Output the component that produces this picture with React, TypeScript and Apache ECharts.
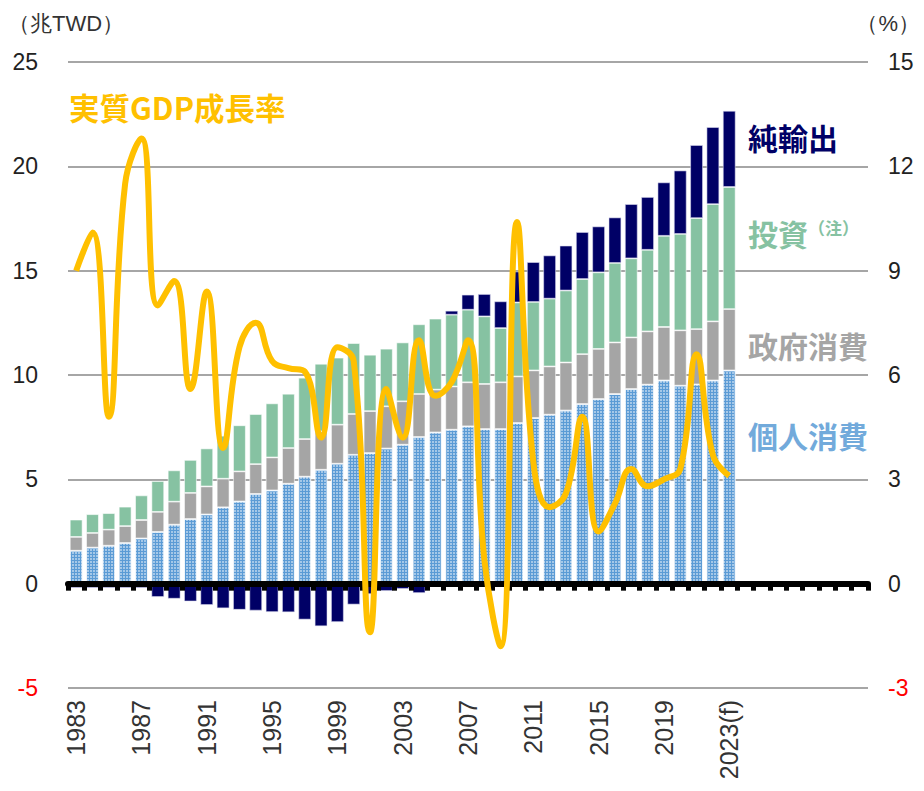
import React, { useEffect, useRef } from "react";
import * as echarts from "echarts";

const years = [
  "1983", "1984", "1985", "1986", "1987", "1988", "1989", "1990", "1991", "1992",
  "1993", "1994", "1995", "1996", "1997", "1998", "1999", "2000", "2001", "2002",
  "2003", "2004", "2005", "2006", "2007", "2008", "2009", "2010", "2011", "2012",
  "2013", "2014", "2015", "2016", "2017", "2018", "2019", "2020", "2021", "2022",
  "2023(f)",
];
const padCount = 8;

// 兆TWD
const personalConsumption = [
  1.58, 1.73, 1.82, 1.95, 2.17, 2.48, 2.83, 3.10, 3.32, 3.66,
  3.94, 4.30, 4.47, 4.79, 5.13, 5.46, 5.75, 6.18, 6.26, 6.48,
  6.66, 7.03, 7.25, 7.38, 7.54, 7.41, 7.41, 7.70, 7.94, 8.10,
  8.30, 8.61, 8.85, 9.09, 9.33, 9.54, 9.74, 9.49, 9.55, 9.74,
  10.22,
];
const governmentConsumption = [
  0.66, 0.70, 0.77, 0.81, 0.88, 0.96, 1.10, 1.25, 1.34, 1.37,
  1.44, 1.43, 1.58, 1.71, 1.80, 1.84, 1.87, 1.95, 2.01, 2.02,
  2.08, 2.06, 2.05, 2.07, 2.11, 2.16, 2.24, 2.23, 2.28, 2.31,
  2.30, 2.39, 2.40, 2.47, 2.47, 2.55, 2.56, 2.65, 2.65, 2.83,
  2.94,
];
const investment = [
  0.83, 0.90, 0.79, 0.93, 1.18, 1.48, 1.50, 1.58, 1.82, 2.06,
  2.21, 2.40, 2.59, 2.60, 2.94, 3.24, 3.21, 3.40, 2.70, 2.76,
  2.82, 3.34, 3.40, 3.44, 3.48, 3.24, 2.60, 3.55, 3.28, 3.25,
  3.45, 3.60, 3.67, 3.81, 3.79, 3.91, 4.37, 4.62, 5.32, 5.62,
  5.85,
];
const netExports = [
  -0.2, -0.2, -0.2, -0.2, -0.2, -0.64, -0.72, -0.85, -1.02, -1.18,
  -1.25, -1.29, -1.36, -1.37, -1.72, -2.04, -1.84, -1.0, -0.5, -0.35,
  -0.25, -0.45, -0.05, 0.19, 0.72, 1.07, 1.28, 1.48, 1.91, 2.07,
  2.15, 2.25, 2.20, 2.18, 2.60, 2.53, 2.56, 3.04, 3.50, 3.69,
  3.65,
];
// %
const realGdpGrowth = [
  9.0, 10.1, 4.8, 11.5, 12.8, 8.0, 8.7, 5.6, 8.4, 3.9,
  6.8, 7.5, 6.4, 6.2, 6.1, 4.2, 6.8, 6.4, -1.4, 5.6,
  4.2, 7.0, 5.4, 5.8, 7.0, 0.7, -1.8, 10.4, 3.5, 2.2,
  2.6, 4.8, 1.5, 2.3, 3.3, 2.8, 3.0, 3.3, 6.6, 3.7,
  3.1,
];

const leftTicks = { min: -5, max: 25, interval: 5 };
const rightTicks = { min: -3, max: 15, interval: 3 };

const NUM_FONT = "'Liberation Sans Narrow', 'Liberation Sans', Arial, sans-serif";
const CJK_FONT = "'Noto Sans CJK JP', 'Noto Sans', sans-serif";

export default function App() {
  const ref = useRef<HTMLDivElement>(null);

  useEffect(() => {
    if (!ref.current) return;
    const chart = echarts.init(ref.current, undefined, { renderer: "svg" });
    const categories = [
      ...years,
      ...Array.from({ length: padCount }, (_, i) => " ".repeat(i + 1)),
    ];
    const barBase = {
      type: "bar",
      stack: "gdp",
      xAxisIndex: 0,
      yAxisIndex: 0,
      barCategoryGap: "22%",
    };
    const numLabel = (v: number) => (v < 0 ? `{r|${v}}` : `${v}`);
    const labelStyle = {
      fontFamily: NUM_FONT,
      fontSize: 23,
      color: "#222",
      rich: { r: { color: "#ff0000", fontFamily: NUM_FONT, fontSize: 23 } },
    };

    chart.setOption({
      animation: false,
      backgroundColor: "#fff",
      grid: { left: 68, right: 56, top: 62, bottom: 103 },
      xAxis: [
        {
          type: "category",
          data: categories,
          axisLine: { onZero: true, lineStyle: { color: "#000", width: 6 } },
          axisTick: { show: true, interval: 0, length: 7, lineStyle: { color: "#000", width: 5 } },
          axisLabel: { show: false },
          z: 5,
        },
        {
          type: "category",
          data: categories,
          position: "bottom",
          axisLine: { show: false },
          axisTick: { show: false },
          axisLabel: {
            interval: 3,
            rotate: 90,
            margin: 12,
            fontFamily: NUM_FONT,
            fontSize: 25,
            color: "#333",
          },
        },
      ],
      yAxis: [
        {
          type: "value",
          ...leftTicks,
          axisLine: { show: false },
          axisTick: { show: false },
          splitLine: { show: true, lineStyle: { color: "#a6a6a6", width: 2 } },
          axisLabel: { ...labelStyle, margin: 30, formatter: numLabel },
        },
        {
          type: "value",
          ...rightTicks,
          position: "right",
          axisLine: { show: false },
          axisTick: { show: false },
          splitLine: { show: false },
          axisLabel: { ...labelStyle, margin: 20, formatter: numLabel },
        },
      ],
      series: [
        {
          ...barBase,
          name: "個人消費",
          data: personalConsumption,
          itemStyle: {
            color: "#5b9bd5",
            borderColor: "rgba(255,255,255,0.7)",
            borderWidth: 0.8,
            decal: {
              symbol: "rect",
              symbolSize: 1,
              color: "rgba(255,255,255,0.45)",
              dashArrayX: [2, 1],
              dashArrayY: [2, 1],
              rotation: 0,
            },
          },
        },
        {
          ...barBase,
          name: "政府消費",
          data: governmentConsumption,
          itemStyle: { color: "#a5a5a5", borderColor: "rgba(255,255,255,0.7)", borderWidth: 0.8 },
        },
        {
          ...barBase,
          name: "投資",
          data: investment,
          itemStyle: { color: "#86c2a2", borderColor: "rgba(255,255,255,0.7)", borderWidth: 0.8 },
        },
        {
          ...barBase,
          name: "純輸出",
          data: netExports,
          itemStyle: { color: "#000066", borderColor: "rgba(220,220,240,0.7)", borderWidth: 0.8 },
        },
        {
          type: "line",
          name: "実質GDP成長率",
          xAxisIndex: 0,
          yAxisIndex: 1,
          data: realGdpGrowth,
          smooth: 0.45,
          symbol: "none",
          lineStyle: { color: "#ffc000", width: 6 },
          z: 10,
        },
      ],
      graphic: [
        {
          type: "text",
          left: 8,
          top: 12,
          style: { text: "（兆TWD）", fontFamily: NUM_FONT, fontSize: 22, fill: "#333" },
        },
        {
          type: "text",
          right: 4,
          top: 12,
          style: { text: "（%）", fontFamily: NUM_FONT, fontSize: 22, fill: "#333" },
        },
        {
          type: "text",
          left: 69,
          top: 92,
          z: 20,
          style: { text: "実質GDP成長率", fontFamily: CJK_FONT, fontWeight: "bold", fontSize: 30.5, fill: "#ffc000" },
        },
        {
          type: "text",
          left: 748,
          top: 122,
          style: { text: "純輸出", fontFamily: CJK_FONT, fontWeight: "bold", fontSize: 30, fill: "#000066" },
        },
        {
          type: "text",
          left: 748,
          top: 218,
          style: { text: "投資", fontFamily: CJK_FONT, fontWeight: "bold", fontSize: 30, fill: "#86c2a2" },
        },
        {
          type: "text",
          left: 808,
          top: 219,
          style: { text: "（注）", fontFamily: CJK_FONT, fontWeight: "bold", fontSize: 17, fill: "#86c2a2" },
        },
        {
          type: "text",
          left: 748,
          top: 330,
          style: { text: "政府消費", fontFamily: CJK_FONT, fontWeight: "bold", fontSize: 30, fill: "#a5a5a5" },
        },
        {
          type: "text",
          left: 748,
          top: 420,
          style: { text: "個人消費", fontFamily: CJK_FONT, fontWeight: "bold", fontSize: 30, fill: "#72aadb" },
        },
      ],
    });
    return () => chart.dispose();
  }, []);

  return (
    <div
      ref={ref}
      style={{ position: "fixed", left: 0, top: 0, width: 924, height: 791, background: "#fff" }}
    />
  );
}
